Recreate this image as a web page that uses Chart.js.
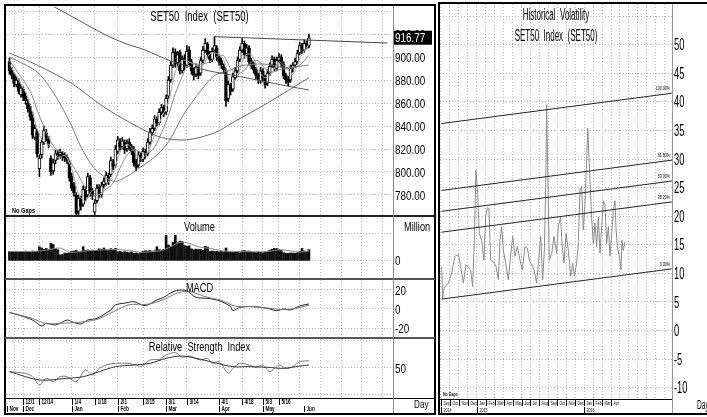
<!DOCTYPE html>
<html>
<head>
<meta charset="utf-8">
<script src="https://cdn.jsdelivr.net/npm/chart.js@4.4.0/dist/chart.umd.min.js"></script>
<style>
  body { margin: 0; width: 707px; height: 417px; overflow: hidden; background: #fff; position: relative;
         font-family: 'Liberation Sans', Arial, sans-serif; }
  canvas, .t, .ln, .bx { position: absolute; }
  .t { white-space: pre; color: #000; line-height: 1; transform-origin: center top; }
  .l { transform-origin: left top; }
  .ln { background: #000; }
  .bx { border: 2px solid #000; box-sizing: border-box; }
</style>
</head>
<body>
<div class="bx" style="left:4px;top:4px;width:432px;height:411px"></div>
<div class="bx" style="left:438px;top:2px;width:290px;height:413px"></div>
<div class="ln" style="left:5px;top:215px;width:430px;height:2px;background:#222"></div>
<div class="ln" style="left:5px;top:278px;width:430px;height:2px;background:#555"></div>
<div class="ln" style="left:5px;top:337px;width:430px;height:2px;background:#555"></div>
<div class="ln" style="left:5px;top:398px;width:430px;height:1px"></div>
<div class="ln" style="left:393px;top:6px;width:1px;height:407px;background:#888"></div>
<div class="ln" style="left:440px;top:399px;width:232px;height:1px"></div>
<div class="ln" style="left:672px;top:4px;width:1px;height:409px;background:#999"></div>

<canvas id="cPrice" width="428" height="208" style="left:6px;top:7px"></canvas>
<canvas id="cVol" width="428" height="60" style="left:6px;top:218px"></canvas>
<canvas id="cMacd" width="428" height="56" style="left:6px;top:280px"></canvas>
<canvas id="cRsi" width="428" height="74" style="left:6px;top:339px"></canvas>
<canvas id="cHv" width="267" height="409" style="left:440px;top:4px"></canvas>

<div class="t" style="left:6px;top:9px;width:387px;text-align:center;font-size:14px;transform:scaleX(0.68)">SET50  Index  (SET50)</div>
<div class="t l" style="left:12px;top:207px;font-size:7px;font-weight:bold;transform:scaleX(0.8)">No Gaps</div>
<div class="t" style="left:6px;top:221px;width:387px;text-align:center;font-size:12.5px;transform:scaleX(0.74)">Volume</div>
<div class="t l" style="left:404px;top:221px;font-size:12.5px;transform:scaleX(0.74)">Million</div>
<div class="t" style="left:6px;top:282px;width:387px;text-align:center;font-size:12.5px;transform:scaleX(0.74)">MACD</div>
<div class="t" style="left:6px;top:341px;width:387px;text-align:center;font-size:12.5px;transform:scaleX(0.74)">Relative  Strength  Index</div>
<div class="t l" style="left:414px;top:399px;font-size:11px;transform:scaleX(0.74)">Day</div>
<div class="t" style="left:440px;top:7px;width:232px;text-align:center;font-size:16px;transform:scaleX(0.5)">Historical  Volatility</div>
<div class="t" style="left:440px;top:28px;width:232px;text-align:center;font-size:16px;transform:scaleX(0.5)">SET50  Index  (SET50)</div>
<div class="t l" style="left:443px;top:391px;font-size:6px;font-weight:bold;transform:scaleX(0.6)">No Gaps</div>
<div class="t l" style="left:697px;top:399px;font-size:12px;transform:scaleX(0.55)">Day</div>

<script>
var FONT = "'Liberation Sans', Arial, sans-serif";

// ---------- left chart: one entry per trading day (index 0..130) ----------
var candleOpen = [896, 888, 884, 876, 879, 867, 872, 866, 860, 857,
  850, 830, 835, 803, 815, 826, 834, 829, 812, 801,
  810, 816, 815, 816, 814, 813, 808, 796, 788, 780,
  766, 776, 772, 784, 780, 795, 784, 765, 775, 787,
  780, 789, 790, 796, 798, 808, 806, 818, 826, 822,
  826, 820, 826, 822, 820, 809, 806, 815, 811, 818,
  816, 826, 834, 838, 846, 843, 852, 856, 852, 866,
  880, 893, 904, 895, 904, 888, 899, 893, 906, 896,
  889, 885, 891, 886, 897, 906, 911, 903, 898, 906,
  908, 900, 897, 892, 888, 864, 874, 872, 882, 888,
  898, 906, 912, 903, 908, 897, 894, 889, 884, 879,
  888, 882, 877, 886, 893, 898, 890, 897, 900, 894,
  884, 881, 880, 890, 893, 896, 904, 910, 906, 912,
  910];
var candleHigh = [899, 891, 886, 883, 881, 876, 874, 869, 863, 859,
  852, 841, 837, 815, 829, 840, 837, 831, 814, 811,
  819, 819, 820, 818, 817, 815, 810, 799, 791, 782,
  780, 779, 788, 787, 799, 797, 786, 776, 789, 789,
  791, 795, 800, 799, 813, 811, 823, 831, 829, 830,
  828, 828, 829, 824, 822, 811, 818, 817, 821, 820,
  829, 838, 841, 849, 848, 855, 859, 858, 867, 883,
  896, 908, 907, 905, 906, 901, 902, 910, 909, 898,
  891, 894, 893, 900, 909, 916, 913, 905, 908, 917.7,
  910, 902, 899, 894, 890, 879, 877, 886, 891, 900,
  909, 916, 914, 911, 910, 899, 896, 891, 886, 891,
  890, 884, 889, 895, 901, 900, 900, 903, 902, 896,
  886, 883, 893, 895, 899, 906, 913, 912, 915, 914,
  920];
var candleLow = [885, 881, 874, 874, 868, 865, 862, 859, 852, 845,
  829, 828, 813, 796, 812, 824, 827, 821, 797, 798,
  807, 811, 812, 810, 809, 807, 792, 784, 779, 761,
  763, 767, 770, 775, 778, 779, 776, 762, 773, 778,
  778, 786, 788, 789, 796, 802, 804, 816, 819, 820,
  816, 818, 819, 815, 805, 801, 804, 809, 809, 812,
  814, 824, 832, 836, 840, 841, 850, 848, 850, 864,
  878, 891, 891, 892, 885, 886, 889, 891, 893, 885,
  880, 883, 881, 884, 895, 904, 899, 895, 896, 904,
  897, 893, 890, 886, 857, 861, 867, 870, 880, 886,
  896, 904, 899, 901, 893, 890, 886, 881, 877, 877,
  879, 873, 875, 884, 891, 888, 888, 895, 891, 881,
  877, 875, 878, 887, 891, 894, 902, 903, 904, 907,
  908];
var candleClose = [888, 884, 877, 880, 870, 873, 865, 862, 855, 848,
  832, 838, 816, 812, 826, 836, 830, 824, 800, 808,
  816, 814, 817, 813, 812, 810, 795, 786, 782, 764,
  777, 770, 785, 778, 796, 782, 779, 773, 786, 781,
  788, 792, 797, 792, 810, 805, 820, 828, 822, 827,
  819, 825, 822, 818, 808, 804, 815, 812, 818, 815,
  826, 835, 838, 846, 843, 852, 856, 851, 864, 880,
  893, 904, 894, 902, 888, 898, 892, 905, 896, 888,
  884, 891, 884, 897, 906, 912, 902, 898, 905, 910,
  900, 896, 893, 889, 862, 876, 870, 883, 888, 897,
  906, 912, 902, 908, 896, 893, 889, 884, 880, 888,
  882, 876, 886, 892, 898, 891, 897, 900, 894, 884,
  880, 878, 890, 893, 896, 903, 910, 906, 912, 910,
  916.77];
var volume = [215, 220, 210, 225, 218, 222, 212, 228, 220, 215,
  230, 222, 218, 330, 300, 270, 290, 260, 410, 380,
  290, 260, 140, 150, 180, 175, 190, 220, 230, 245,
  210, 225, 330, 240, 255, 230, 250, 235, 245, 280,
  270, 300, 265, 240, 285, 270, 290, 210, 220, 200,
  215, 205, 190, 210, 175, 185, 170, 190, 225, 235,
  230, 240, 220, 235, 330, 260, 250, 270, 600, 370,
  330, 430, 600, 420, 460, 450, 360, 340, 350, 280,
  260, 275, 265, 270, 250, 340, 320, 220, 230, 215,
  225, 210, 220, 205, 300, 210, 200, 195, 205, 200,
  190, 235, 240, 225, 230, 200, 205, 195, 210, 200,
  190, 205, 200, 250, 270, 290, 285, 260, 240, 190,
  180, 175, 185, 180, 178, 190, 220, 290, 230, 215,
  260];

// moving averages and indicators, read at chosen trading days
var ma5Idx = [0, 4, 8, 12, 15, 18, 21, 24, 27, 30, 33, 36, 39, 42, 45, 48, 51, 54, 57, 60, 63, 66, 69, 72, 75, 78, 81, 84, 87, 90, 93, 96, 99, 102, 105, 108, 111, 114, 117, 120, 123, 126, 128, 130];
var ma5Val = [894, 879.8, 865, 837.8, 825.6, 823.2, 812.4, 814.4, 803.2, 780.8, 774.8, 784, 780.2, 788.8, 799.2, 817, 824.2, 818.4, 811.4, 817.2, 832, 847, 860.6, 887, 897.2, 895.8, 892.8, 892.4, 903, 903, 897.6, 878, 882.8, 901, 902.2, 888.4, 882, 886.8, 895.6, 891, 885, 898.4, 905.4, 910.9];
var ma10Idx = [0, 9, 12, 15, 18, 21, 24, 27, 30, 33, 36, 39, 42, 45, 48, 51, 54, 57, 60, 63, 66, 69, 72, 75, 78, 81, 84, 87, 90, 93, 96, 99, 102, 105, 108, 111, 114, 117, 120, 123, 126, 130];
var ma10Val = [897, 870.2, 853.9, 839, 826.2, 818.2, 817, 807.1, 797, 785.9, 779.9, 780.7, 785.2, 790.3, 803.5, 814.5, 819.4, 817.2, 816.3, 821.7, 834.1, 849.1, 868.3, 883, 895.2, 893.8, 894.1, 895.8, 900.5, 901.1, 889.9, 885.4, 888.5, 895.5, 896.7, 889.8, 886.8, 889, 889.8, 890.5, 892.8, 901.5];
var ma25Idx = [0, 12, 20, 27, 31, 37, 45, 50, 56, 63, 69, 75, 82, 89, 95, 100, 110, 120, 130];
var ma25Val = [900, 887, 866, 840, 822, 803, 792, 795, 803, 813, 826, 848, 868, 884, 888, 892, 894, 891, 893];
var ma75Idx = [0, 12, 27, 41, 56, 66, 77, 89, 97, 112, 130];
var ma75Val = [903.5, 893, 877, 856.5, 839, 830, 828, 834, 843, 860, 882];
var ma200Idx = [8, 14, 20, 30, 41, 50, 59, 70, 80, 89, 100, 110, 120, 130];
var ma200Val = [953, 948, 943, 932, 920, 912, 906, 896.5, 891, 887, 883, 879, 875, 871.3];
var trendIdx = [89, 164];
var trendVal = [917.7, 912.2];

var volMaIdx = [0, 10, 16, 22, 26, 30, 35, 40, 46, 52, 57, 62, 66, 70, 74, 78, 82, 87, 92, 97, 104, 110, 115, 118, 122, 126, 130];
var volMaVal = [220, 220, 250, 300, 200, 215, 240, 255, 265, 240, 200, 215, 240, 330, 430, 410, 330, 290, 240, 220, 215, 210, 240, 260, 230, 205, 225];

var macdIdx = [0, 4, 10, 14, 16, 20, 25, 27, 31, 34, 38, 44, 46, 51, 54, 59, 64, 67, 71, 74, 77, 81, 86, 91, 96, 97, 100, 106, 112, 116, 119, 122, 126, 130];
var macdVal = [-3.9, -6.3, -11.6, -17.9, -15, -16.8, -11.6, -13.3, -15.8, -11.6, -9.8, -1, 4.2, 6.6, 7.7, 3.5, 9.5, 12.3, 18.2, 20, 19, 12.3, 11.2, 8.8, 2.5, -1.8, 1.8, 2.5, 0.7, -1.8, 0, -1, 3.2, 5.3];
var signalIdx = [0, 10, 16, 22, 30, 38, 45, 52, 60, 67, 73, 78, 85, 92, 98, 105, 112, 118, 124, 130];
var signalVal = [-3.5, -10, -15.5, -15, -14, -11, -3, 4.5, 5, 10, 17, 18.5, 13, 9, 3, 2.5, 1, -0.5, 0.5, 4];

var rsiIdx = [0, 7, 10, 13, 16, 19, 22, 25, 29, 33, 36, 39, 42, 46, 51, 55, 57, 61, 65, 68, 72, 75, 78, 83, 86, 88, 91, 95, 97, 100, 104, 107, 110, 113, 117, 120, 123, 126, 130];
var rsiVal = [43.9, 41, 35.5, 21.7, 32.8, 27.2, 35.5, 35.5, 27.2, 46.7, 38.3, 49.4, 55, 57.8, 57.8, 55, 52.2, 63.3, 64.4, 71.7, 75.6, 67.8, 70, 63.3, 66, 57.8, 60.5, 41.1, 49.4, 57.8, 55, 51.1, 55, 43.9, 55, 49.4, 52.2, 60.5, 62.2];
var rsiMaIdx = [0, 13, 25, 32, 39, 46, 54, 61, 68, 75, 83, 90, 97, 104, 112, 119, 126, 130];
var rsiMaVal = [43.9, 30, 32.8, 35.5, 43.9, 52.2, 55, 57.8, 66, 70, 64.4, 57.8, 52.2, 52.2, 51.1, 49.4, 53.3, 55];

// axis ticks of the left chart
var gridIdx = [2, 6, 13, 27, 37, 47, 58, 68, 77, 91, 101, 110, 117, 126, 135, 144, 153, 162];
var dayTickIdx = [6, 13, 27, 37, 47, 58, 68, 77, 91, 101, 110, 117];
var dayTickLbl = ['12/1', '12/14', '1/4', '1/18', '2/1', '2/15', '3/1', '3/14', '4/1', '4/18', '5/3', '5/16'];
var monthIdx = [-1, 6, 27, 47, 68, 91, 110, 128];
var monthLbl = ['Nov', 'Dec', 'Jan', 'Feb', 'Mar', 'Apr', 'May', 'Jun'];
var priceTicks = [780, 800, 820, 840, 860, 880, 900, 920, 940];
var volTicks = [0, 630];
var macdTicks = [-20, 0, 20];
var rsiTicks = [5, 50, 95];

// ---------- right chart: historical volatility (x = months since Sep 2014) ----------
var hvMonth = [0.07, 0.2, 0.26, 0.45, 0.82, 1.19, 1.56, 1.94, 2.2, 2.5,
  2.79, 3.05, 3.31, 3.54, 3.72, 3.91, 4.1, 4.28, 4.54, 4.8,
  4.99, 5.18, 5.36, 5.55, 5.85, 6.15, 6.41, 6.59, 6.78, 6.96,
  7.23, 7.52, 7.78, 8.01, 8.27, 8.53, 8.83, 9.09, 9.39, 9.65,
  9.87, 10.13, 10.39, 10.69, 10.91, 11.14, 11.36, 11.55, 11.7, 11.8,
  11.92, 12.1, 12.37, 12.63, 12.92, 13.11, 13.37, 13.52, 13.74, 13.97,
  14.23, 14.49, 14.71, 14.9, 15.16, 15.34, 15.53, 15.72, 15.9, 16.09,
  16.28, 16.4, 16.54, 16.65, 16.83, 17.02, 17.21, 17.39, 17.58, 17.77,
  17.95, 18.14, 18.32, 18.51, 18.7, 18.88, 19.07, 19.26, 19.44, 19.55,
  19.7, 19.93, 20.11, 20.22, 20.37, 20.56];
var hvValue = [11.2, 5.6, 7, 7.7, 8.3, 10, 13, 13.3, 11.2, 8.3,
  11.5, 11, 10.6, 7.7, 15.8, 28, 24, 17, 15.8, 12.3,
  19.8, 21.5, 21.3, 12.3, 12, 11.2, 8.9, 15.8, 18.2, 14.1,
  11.8, 8.9, 13, 16.5, 13, 14.7, 12.3, 10.6, 14.7, 14.4,
  12.3, 11.5, 10.6, 8.3, 12.3, 16.5, 8.9, 14.1, 25, 39.5,
  28.8, 12.3, 13.5, 16.5, 13.5, 18.2, 19.8, 15.2, 11.8, 17,
  14, 9.5, 11.8, 9.5, 11.8, 15.2, 24.6, 25.2, 17.6, 22.1,
  30, 35.4, 30, 26.3, 19.8, 15.2, 18.8, 14.7, 19.8, 13.5,
  18.2, 22.7, 22.1, 15.2, 18.2, 13, 17, 21, 22.7, 18,
  14.7, 13, 10.6, 15.8, 14, 15.5];
var channelLbl = ['100.00%', '61.80%', '50.00%', '38.20%', '0.00%'];
var channelStart = [36.2, 24.5, 20.85, 17.2, 5.5];
var channelEnd = [41.5, 29.8, 26.15, 22.5, 10.8];
var channelFrom = 0.05;
var channelTo = 25.8;
var hvTicks = [-10, -5, 0, 5, 10, 15, 20, 25, 30, 35, 40, 45, 50, 55];
var hvMonthIdx = [0, 1, 2, 3, 4, 5, 6, 7, 8, 9, 10, 11, 12, 13, 14, 15, 16, 17, 18, 19];
var hvMonthLbl = ['Sep', 'Oct', 'Nov', 'Dec', 'Jan', 'Feb', 'Mar', 'Apr', 'May', 'Jun', 'Jul', 'Aug', 'Sep', 'Oct', 'Nov', 'Dec', 'Jan', 'Feb', 'Mar', 'Apr'];
var hvYearIdx = [0, 4, 16];
var hvYearLbl = ['2014', '2015', '2016'];
var hvGrid = [0, 1, 2, 3, 4, 5, 6, 7, 8, 9, 10, 11, 12, 13, 14, 15, 16, 17, 18, 19, 20, 21, 22, 23, 24, 25];

// ---------- helpers ----------
Chart.defaults.animation = false;
Chart.defaults.events = [];
Chart.defaults.font.family = FONT;
Chart.defaults.color = '#000';
Chart.defaults.plugins.legend.display = false;
Chart.defaults.plugins.tooltip.enabled = false;

var GRID = '#b4b4b4';
var X_MIN = -1.5, X_MAX = 166.5;

function pts(xs, ys) {
    return xs.map(function (x, k) { return { x: x, y: ys[k] }; });
}

function line(data, color) {
    return { type: 'line', data: data, borderColor: color, borderWidth: 1, pointRadius: 0, tension: 0.3, order: 0 };
}

function fixedTicks(list) {
    return function (axis) { axis.ticks = list.map(function (v) { return { value: v }; }); };
}

function fitRight(w) {
    return function (axis) { axis.width = w; axis.paddingTop = 0; axis.paddingBottom = 0; };
}

// text squeezed sideways, the source uses a very narrow face
function narrowText(ctx, text, x, y, sx, align) {
    ctx.save();
    ctx.translate(x, y);
    ctx.scale(sx, 1);
    ctx.textAlign = align || 'left';
    ctx.fillText(text, 0, 0);
    ctx.restore();
}

// bar charts default their index axis to offset: true, switched off so all panels line up
function xDays() {
    return {
        type: 'linear', min: X_MIN, max: X_MAX, offset: false,
        afterBuildTicks: fixedTicks(gridIdx),
        ticks: { display: false },
        grid: { color: GRID, drawTicks: false, offset: false },
        border: { display: false, dash: [1, 2] }
    };
}

function yRight(min, max, list, w) {
    return {
        position: 'right', min: min, max: max,
        afterBuildTicks: fixedTicks(list),
        afterFit: fitRight(w || 41),
        ticks: { display: false },
        grid: { color: GRID, drawTicks: false },
        border: { display: false, dash: [1, 2] }
    };
}

// right axis labels, drawn from the y scale ticks
function yLabels(fmt, size, sx) {
    return {
        id: 'yLabels',
        afterDraw: function (chart) {
            var ctx = chart.ctx, sy = chart.scales.y, x = chart.chartArea.right + 2;
            ctx.save();
            ctx.fillStyle = '#000';
            ctx.font = size + 'px ' + FONT;
            ctx.textBaseline = 'middle';
            sy.ticks.forEach(function (t) {
                var s = fmt(t.value);
                if (s) narrowText(ctx, s, x, sy.getPixelForValue(t.value) + 1, sx);
            });
            ctx.restore();
        }
    };
}

function baseOptions(scales, bottomPad) {
    return {
        responsive: false,
        layout: { autoPadding: false, padding: { bottom: bottomPad || 0 } },
        scales: scales
    };
}

// date rows drawn under the chart area from the x scale
function dateRows(rows) {
    return {
        id: 'dateRows',
        afterDraw: function (chart) {
            var ctx = chart.ctx, sx = chart.scales.x, top = chart.chartArea.bottom;
            ctx.save();
            ctx.strokeStyle = '#000';
            ctx.lineWidth = 1;
            ctx.fillStyle = '#000';
            rows.forEach(function (r) {
                ctx.font = r.font;
                r.idx.forEach(function (v, k) {
                    var px = Math.round(sx.getPixelForValue(v)) + 0.5;
                    ctx.beginPath();
                    ctx.moveTo(px, top + r.y0);
                    ctx.lineTo(px, top + r.y1);
                    ctx.stroke();
                    narrowText(ctx, r.lbl[k], px + 2, top + r.base, r.sx);
                });
            });
            ctx.restore();
        }
    };
}

var lastPrice = {
    id: 'lastPrice',
    afterDraw: function (chart) {
        var last = candleClose[candleClose.length - 1];
        var y = chart.scales.y.getPixelForValue(last);
        var x = chart.chartArea.right;
        var ctx = chart.ctx;
        ctx.save();
        ctx.fillStyle = '#000';
        ctx.fillRect(x + 1, y - 7, 38, 14);
        ctx.fillStyle = '#fff';
        ctx.font = '13px ' + FONT;
        ctx.textBaseline = 'middle';
        narrowText(ctx, last.toFixed(2), x + 2, y + 1, 0.76);
        ctx.restore();
    }
};

var channelText = {
    id: 'channelText',
    afterDatasetsDraw: function (chart) {
        var ctx = chart.ctx, sx = chart.scales.x, sy = chart.scales.y;
        ctx.save();
        ctx.fillStyle = '#000';
        ctx.font = '6px ' + FONT;
        channelLbl.forEach(function (t, k) {
            narrowText(ctx, t, sx.getPixelForValue(channelTo) - 2, sy.getPixelForValue(channelEnd[k]) - 3, 0.6, 'right');
        });
        ctx.restore();
    }
};

// ---------- price panel ----------
var bodies = candleOpen.map(function (o, i) { return { x: i, y: [o, candleClose[i]] }; });
var wicks = candleLow.map(function (l, i) { return { x: i, y: [l, candleHigh[i]] }; });
var bodyFill = candleOpen.map(function (o, i) { return candleClose[i] >= o ? '#fff' : '#000'; });

new Chart(document.getElementById('cPrice'), {
    type: 'bar',
    data: {
        datasets: [
            line(pts(ma200Idx, ma200Val), '#555'),
            line(pts(ma75Idx, ma75Val), '#666'),
            line(pts(ma25Idx, ma25Val), '#777'),
            line(pts(ma10Idx, ma10Val), '#888'),
            line(pts(ma5Idx, ma5Val), '#aaa'),
            { type: 'line', data: pts(trendIdx, trendVal), borderColor: '#444', borderWidth: 1, pointRadius: 0, order: 0 },
            { data: wicks, backgroundColor: '#000', barThickness: 1, grouped: false, order: 2 },
            { data: bodies, backgroundColor: bodyFill, borderColor: '#000', borderWidth: 1, borderSkipped: false,
              barThickness: 3, minBarLength: 1, grouped: false, order: 1 }
        ]
    },
    options: baseOptions({
        x: xDays(),
        y: yRight(762.6, 943.5, priceTicks)
    }),
    plugins: [yLabels(function (v) { return v === 940 ? '' : v.toFixed(2); }, 13, 0.76), lastPrice]
});

// ---------- volume panel ----------
new Chart(document.getElementById('cVol'), {
    type: 'bar',
    data: {
        datasets: [
            line(pts(volMaIdx, volMaVal), '#888'),
            { data: volume.map(function (v, i) { return { x: i, y: v }; }), backgroundColor: '#111',
              barThickness: 2, grouped: false, order: 1 }
        ]
    },
    options: baseOptions({
        x: xDays(),
        y: yRight(-400, 1000, volTicks)
    }),
    plugins: [yLabels(function (v) { return v === 0 ? '0' : ''; }, 13, 0.76)]
});

// ---------- MACD panel ----------
new Chart(document.getElementById('cMacd'), {
    type: 'line',
    data: {
        datasets: [
            line(pts(signalIdx, signalVal), '#777'),
            line(pts(macdIdx, macdVal), '#222')
        ]
    },
    options: baseOptions({
        x: xDays(),
        y: yRight(-28.4, 30.5, macdTicks)
    }),
    plugins: [yLabels(function (v) { return String(v); }, 13, 0.76)]
});

// ---------- RSI panel with the date rows ----------
new Chart(document.getElementById('cRsi'), {
    type: 'line',
    data: {
        datasets: [
            line(pts(rsiMaIdx, rsiMaVal), '#333'),
            line(pts(rsiIdx, rsiVal), '#777')
        ]
    },
    options: baseOptions({
        x: xDays(),
        y: yRight(0, 98.3, rsiTicks)
    }, 15),
    plugins: [yLabels(function (v) { return v === 50 ? '50' : ''; }, 13, 0.76), dateRows([
        { idx: dayTickIdx, lbl: dayTickLbl, y0: 1, y1: 7, base: 6, sx: 0.72, font: 'bold 6.5px ' + FONT },
        { idx: monthIdx, lbl: monthLbl, y0: 8, y1: 14, base: 13, sx: 0.72, font: 'bold 6.5px ' + FONT }
    ])]
});

// ---------- historical volatility ----------
var hvSets = channelStart.map(function (s, k) {
    return { data: pts([channelFrom, channelTo], [s, channelEnd[k]]), borderColor: '#222', borderWidth: 1, pointRadius: 0 };
});
hvSets.push({ data: pts(hvMonth, hvValue), borderColor: '#8a8a8a', borderWidth: 1, pointRadius: 0 });

new Chart(document.getElementById('cHv'), {
    type: 'line',
    data: { datasets: hvSets },
    options: {
        responsive: false,
        layout: { autoPadding: false, padding: { bottom: 14 } },
        scales: {
            x: {
                type: 'linear', min: -0.11, max: 25.81,
                afterBuildTicks: fixedTicks(hvGrid),
                ticks: { display: false },
                grid: { color: GRID, drawTicks: false },
                border: { display: false, dash: [1, 2] }
            },
            y: yRight(-11.96, 57.1, hvTicks, 35)
        }
    },
    plugins: [yLabels(function (v) { return v === 55 ? '' : String(v); }, 17, 0.55), channelText, dateRows([
        { idx: hvMonthIdx, lbl: hvMonthLbl, y0: 1, y1: 7, base: 6, sx: 0.6, font: '6px ' + FONT },
        { idx: hvYearIdx, lbl: hvYearLbl, y0: 8, y1: 14, base: 13, sx: 0.6, font: '6px ' + FONT }
    ])]
});
</script>
</body>
</html>
